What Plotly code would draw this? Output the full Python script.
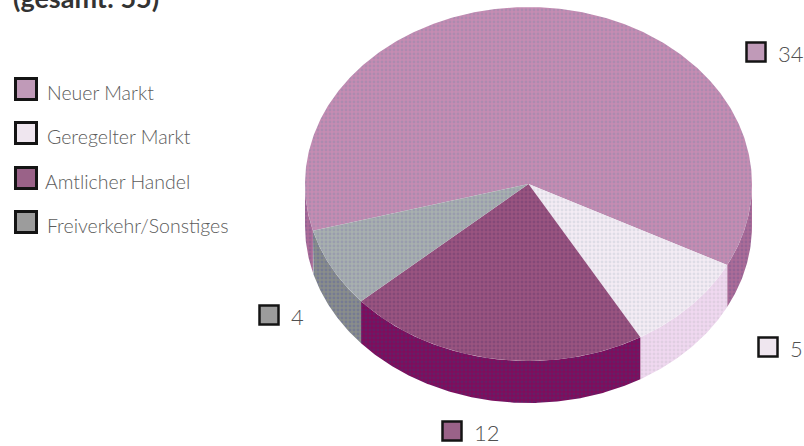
import numpy as np
import plotly.graph_objects as go

# Listing segments, clockwise from the start angle
categories = ["Neuer Markt", "Geregelter Markt", "Amtlicher Handel", "Freiverkehr/Sonstiges"]
values = [34, 5, 12, 4]
title_text = "(gesamt: 55)"

# Colours per segment: top surface (base, dither) and side wall (base, dither)
top_base = ["#c68cb2", "#f4ecf4", "#9a5480", "#a8b0ae"]
top_dots = ["#9488ac", "#c8ccd8", "#6e3e70", "#8a8aac"]
side_base = ["#ac6c98", "#f0d8f0", "#800c5c", "#8a8e8a"]
side_dots = ["#7c5c90", "#d0c4d4", "#4c3070", "#62689a"]
swatch_fill = ["#c09ab8", "#efe6ef", "#9a6288", "#9c9c9c"]

# Pie geometry in page pixels
CX, CY, RX, RY, DEPTH = 528.5, 184, 223.5, 177, 42
START_DEG = 164.7

# Legend and value-label placement
legend_x, legend_y = 26, [89, 133, 178, 222]
legend_text_x = [47, 47, 45, 47]
value_xy = [(756, 52), (768, 347), (452, 431), (269, 315)]


def rim(a0, a1, dy=0):
    a = np.radians(np.linspace(a0, a1, max(int(abs(a1 - a0) * 2), 2)))
    return CX + RX * np.cos(a), CY + dy + RY * np.sin(a)


def add_poly(fig, x, y, base, dots):
    fig.add_trace(go.Scatter(
        x=x, y=y, mode="lines", fill="toself", line=dict(width=0),
        fillcolor=base, hoverinfo="skip", showlegend=False,
        fillpattern=dict(shape=".", size=4, solidity=0.42, fgcolor=dots, bgcolor=base),
    ))


fig = go.Figure()

# Segment extents come straight from the values
total = sum(values)
spans = []
angle = START_DEG
for v in values:
    spans.append((angle, angle + 360 * v / total))
    angle += 360 * v / total

# Side walls: only the arcs facing the viewer (sin > 0 in page coordinates)
for i, (a0, a1) in enumerate(spans):
    for lo, hi in ((a0, a1), (a0 - 360, a1 - 360)):
        lo, hi = max(lo, 0), min(hi, 180)
        if hi <= lo:
            continue
        tx, ty = rim(lo, hi)
        bx, by = rim(hi, lo, DEPTH)
        add_poly(fig, np.r_[tx, bx, tx[0]], np.r_[ty, by, ty[0]], side_base[i], side_dots[i])

# Top surface
for i, (a0, a1) in enumerate(spans):
    rx, ry = rim(a0, a1)
    add_poly(fig, np.r_[CX, rx, CX], np.r_[CY, ry, CY], top_base[i], top_dots[i])

# Legend swatches and names
fig.add_trace(go.Scatter(
    x=[legend_x] * 4, y=legend_y, mode="markers", hoverinfo="skip", showlegend=False,
    marker=dict(symbol="square", size=21, color=swatch_fill, line=dict(color="#141414", width=3)),
))
# Value swatches
fig.add_trace(go.Scatter(
    x=[p[0] for p in value_xy], y=[p[1] for p in value_xy], mode="markers",
    hoverinfo="skip", showlegend=False,
    marker=dict(symbol="square", size=19, color=swatch_fill, line=dict(color="#141414", width=2.5)),
))

# The heading sits at the top edge, shifted up so only its lower part shows
annotations = [
    dict(x=13, y=0, yshift=3, text=f"<b>{title_text}</b>", xanchor="left", yanchor="middle",
         font=dict(family="Lato", size=27, color="#333333")),
]
for name, lx, ly in zip(categories, legend_text_x, legend_y):
    annotations.append(dict(x=lx, y=ly + 3, text=name, xanchor="left", yanchor="middle",
                            font=dict(family="Lato", size=19.5, color="#5c5c5c", weight=300)))
for v, (px, py) in zip(values, value_xy):
    annotations.append(dict(x=px + 22, y=py + 1, text=str(v), xanchor="left", yanchor="middle",
                            font=dict(family="Lato", size=22, color="#505050", weight=300)))
for a in annotations:
    a.update(xref="x", yref="y", showarrow=False, borderpad=0, borderwidth=0)

fig.update_layout(
    width=804, height=446, margin=dict(l=0, r=0, t=0, b=0),
    paper_bgcolor="white", plot_bgcolor="white", annotations=annotations,
    xaxis=dict(range=[0, 804], visible=False, fixedrange=True),
    yaxis=dict(range=[446, 0], visible=False, fixedrange=True),
)
fig.write_html("out.html", config=dict(displayModeBar=False))
